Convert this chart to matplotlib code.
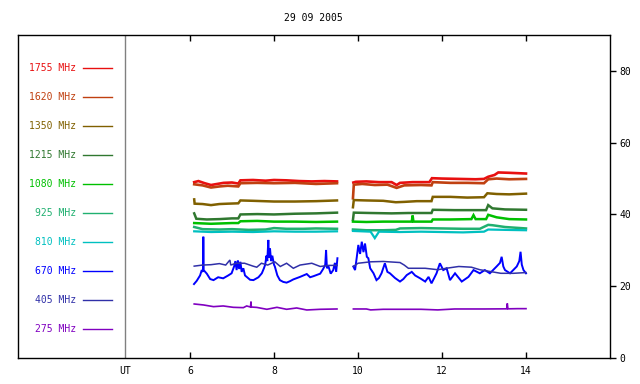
import numpy as np
import matplotlib
matplotlib.use("Agg")
import matplotlib.pyplot as plt
import matplotlib.transforms as mtransforms

nan = float("nan")
title = "29 09 2005"
freq_labels = ["1755 MHz", "1620 MHz", "1350 MHz", "1215 MHz", "1080 MHz",
               "925 MHz", "810 MHz", "670 MHz", "405 MHz", "275 MHz"]
colors = ["#e81010", "#c04010", "#806000", "#307830", "#00c000",
          "#20b070", "#00c0c0", "#0000ff", "#3030a8", "#8000c0"]
x_ticks = [6, 8, 10, 12, 14]
y_ticks = [0, 20, 40, 60, 80]

t_1755 = [6.1, 6.2, 6.35, 6.5, 6.6, 6.8, 7.0, 7.15, 7.2, 7.5, 7.8, 8.0, 8.3, 8.6, 8.9, 9.2, 9.5,
          9.7,
          9.89, 9.95, 10.2, 10.5, 10.8, 10.92, 11.0, 11.3, 11.7, 11.76, 12.0, 12.4, 12.8, 13.0, 13.1, 13.25, 13.34, 13.6, 13.8, 14.0]
v_1755 = [49.0, 49.3, 48.7, 48.2, 48.4, 48.8, 48.9, 48.6, 49.5, 49.6, 49.4, 49.6, 49.5, 49.3, 49.2, 49.3, 49.2,
          nan,
          48.9, 49.1, 49.2, 49.0, 49.0, 48.2, 48.8, 49.0, 49.0, 50.1, 50.0, 49.9, 49.8, 49.9, 50.5, 51.0, 51.7, 51.6, 51.5, 51.4]

t_1620 = [6.1, 6.3, 6.5, 6.7, 6.9, 7.15, 7.2, 7.6, 8.0, 8.5, 9.0, 9.5,
          9.7,
          9.88, 9.9, 10.1, 10.4, 10.7, 10.92, 11.1, 11.5, 11.75, 11.78, 12.2, 12.6, 13.0, 13.1, 13.3, 13.6, 14.0]
v_1620 = [48.4, 48.1, 47.5, 47.8, 48.0, 47.8, 48.7, 48.8, 48.7, 48.8, 48.5, 48.7,
          nan,
          44.5, 48.3, 48.5, 48.2, 48.3, 47.4, 48.1, 48.2, 48.1, 49.0, 48.8, 48.8, 48.7, 49.8, 50.0, 49.8, 49.9]

t_1350 = [6.1, 6.11, 6.3, 6.5, 6.7, 6.9, 7.15, 7.2, 7.5, 8.0, 8.5, 9.0, 9.5,
          9.7,
          9.88, 9.9, 10.2, 10.6, 10.9, 11.1, 11.4, 11.75, 11.78, 12.2, 12.6, 13.0, 13.08, 13.3, 13.6, 14.0]
v_1350 = [44.2, 43.0, 42.9, 42.6, 42.9, 43.0, 43.1, 43.9, 43.8, 43.6, 43.6, 43.7, 43.9,
          nan,
          42.0, 44.0, 43.9, 43.8, 43.4, 43.5, 43.7, 43.7, 44.9, 44.9, 44.7, 44.8, 45.9, 45.7, 45.6, 45.8]

t_1215 = [6.1, 6.15, 6.4, 6.7, 7.0, 7.15, 7.2, 7.6, 8.0, 8.5, 9.0, 9.5,
          9.7,
          9.88, 9.9, 10.3, 10.8, 11.2, 11.75, 11.78, 12.3, 12.8, 13.05, 13.1, 13.2, 13.5, 14.0]
v_1215 = [40.3, 38.8, 38.6, 38.7, 38.9, 38.9, 40.0, 40.1, 40.0, 40.2, 40.3, 40.5,
          nan,
          38.5, 40.5, 40.4, 40.3, 40.4, 40.4, 41.3, 41.2, 41.2, 41.2, 42.6, 41.7, 41.4, 41.3]

t_1080 = [6.1, 6.5, 7.0, 7.15, 7.2, 7.6, 8.0, 8.5, 9.0, 9.5,
          9.7,
          9.88, 10.2, 10.6, 11.0, 11.28, 11.3, 11.32, 11.75, 11.78, 12.2, 12.7, 12.75, 12.8, 13.05, 13.1, 13.3, 13.6, 14.0]
v_1080 = [37.6, 37.4, 37.6, 37.6, 38.1, 38.2, 38.0, 38.0, 37.9, 38.0,
          nan,
          38.0, 37.9, 38.0, 38.0, 38.0, 39.7, 38.0, 38.0, 38.6, 38.6, 38.7, 39.8, 38.7, 38.7, 39.9, 39.2, 38.7, 38.6]

t_925 = [6.1, 6.3, 6.7, 7.0, 7.4, 7.8, 8.0, 8.3, 8.7, 9.0, 9.5,
         9.7,
         9.88, 10.2, 10.6, 10.9, 11.0, 11.5, 12.0, 12.5, 12.9, 13.1, 13.2, 13.5, 14.0]
v_925 = [36.5, 35.9, 35.8, 35.9, 35.7, 35.8, 36.2, 36.0, 36.0, 36.1, 36.0,
         nan,
         35.8, 35.6, 35.6, 35.7, 36.1, 36.2, 36.1, 36.0, 36.0, 37.1, 37.0, 36.5, 36.1]

t_810 = [6.1, 6.5, 7.0, 7.5, 8.0, 8.5, 9.0, 9.5,
         9.7,
         9.88, 10.3, 10.4, 10.5, 11.0, 11.5, 12.0, 12.5, 13.0, 13.1, 13.5, 14.0]
v_810 = [35.3, 35.1, 35.2, 35.1, 35.3, 35.2, 35.2, 35.3,
         nan,
         35.4, 35.2, 33.4, 35.2, 35.1, 35.2, 35.1, 35.0, 35.2, 35.8, 35.7, 35.6]

t_670 = [6.095, 6.16, 6.24, 6.28, 6.31, 6.317, 6.325, 6.4, 6.48, 6.56, 6.67, 6.79, 6.91, 6.99,
         7.05, 7.08, 7.11, 7.14, 7.17, 7.2, 7.23, 7.27, 7.31, 7.43, 7.51, 7.63, 7.71, 7.76, 7.79,
         7.82, 7.84, 7.865, 7.88, 7.905, 7.93, 7.96, 8.0, 8.02, 8.08, 8.14, 8.22, 8.30, 8.38, 8.46,
         8.62, 8.78, 8.86, 8.94, 9.10, 9.17, 9.22, 9.24, 9.26, 9.29, 9.35, 9.41, 9.45, 9.48, 9.51,
         9.7,
         9.889, 9.93, 9.97, 10.008, 10.05, 10.09, 10.13, 10.167, 10.21, 10.246, 10.29, 10.37, 10.44,
         10.5, 10.56, 10.64, 10.7, 10.76, 10.88, 11.0, 11.08, 11.16, 11.28, 11.36, 11.48, 11.6,
         11.68, 11.75, 11.87, 11.95, 12.03, 12.11, 12.19, 12.31, 12.47, 12.63, 12.75, 12.9, 13.02,
         13.14, 13.3, 13.38, 13.42, 13.46, 13.5, 13.62, 13.78, 13.84, 13.87, 13.9, 13.94, 14.0]
v_670 = [20.6, 21.5, 23.0, 24.5, 24.0, 33.8, 24.5, 23.5, 22.0, 21.7, 22.5, 22.2, 23.0, 23.6,
         25.5, 27.0, 24.5, 27.2, 24.8, 26.8, 24.0, 25.0, 23.0, 21.8, 21.7, 22.5, 23.6, 25.0, 26.0,
         28.5, 27.0, 32.9, 28.0, 30.5, 27.0, 28.5, 26.0, 25.5, 23.0, 21.7, 21.2, 21.0, 21.4, 21.9,
         22.6, 23.4, 22.5, 22.8, 23.5, 24.8, 26.0, 30.1, 25.0, 25.8, 23.5, 24.5, 26.5, 24.0, 27.8,
         nan,
         25.5, 24.5, 28.0, 31.5, 29.0, 32.4, 29.5, 31.9, 28.2, 27.8, 25.0, 23.6, 21.7,
         22.3, 23.6, 26.4, 24.0, 23.6, 22.3, 21.3, 22.0, 23.1, 24.0, 23.0, 22.2, 21.3,
         22.6, 20.8, 23.6, 26.4, 24.5, 25.0, 21.7, 23.6, 21.3, 22.6, 24.5, 23.6, 24.5,
         23.6, 25.5, 26.5, 28.2, 25.5, 24.5, 23.6, 25.5, 27.0, 29.6, 26.0, 24.5, 23.6]

t_405 = [6.1, 6.3, 6.5, 6.7, 6.85, 6.95, 6.97, 7.1, 7.3, 7.5, 7.59, 7.7, 7.85, 8.02, 8.15, 8.3, 8.46,
         8.62, 8.9, 9.1, 9.3, 9.5,
         9.7,
         9.89, 10.0, 10.3, 10.6, 11.0, 11.1, 11.2, 11.6, 11.9, 12.1, 12.4, 12.7, 12.9, 13.2, 13.4, 13.7, 14.0]
v_405 = [25.6, 25.9, 26.0, 26.3, 25.9, 27.3, 25.9, 26.4, 26.4, 25.6, 25.3, 26.4, 25.9, 26.8, 25.5, 26.4, 25.0,
         25.9, 26.4, 25.5, 25.8, 25.8,
         nan,
         25.5, 26.4, 26.8, 26.9, 26.6, 25.9, 25.0, 25.0, 24.6, 25.0, 25.5, 25.3, 24.6, 24.0, 23.6, 23.6, 23.8]

t_275 = [6.1, 6.32, 6.56, 6.79, 7.03, 7.27, 7.35, 7.44, 7.452, 7.46, 7.59, 7.83, 8.07, 8.3, 8.54, 8.78, 9.1, 9.5,
         9.7,
         9.89, 10.2, 10.3, 10.6, 11.0, 11.5, 11.9, 12.3, 12.7, 13.0, 13.54, 13.555, 13.57, 13.8, 14.0]
v_275 = [15.05, 14.78, 14.31, 14.5, 14.12, 14.03, 14.5, 14.2, 15.7, 14.2, 14.1, 13.57, 14.12, 13.57, 13.94, 13.38, 13.57, 13.66,
         nan,
         13.66, 13.66, 13.4, 13.57, 13.57, 13.57, 13.4, 13.66, 13.66, 13.66, 13.7, 15.2, 13.7, 13.75, 13.75]

series_t = [t_1755, t_1620, t_1350, t_1215, t_1080, t_925, t_810, t_670, t_405, t_275]
series_v = [v_1755, v_1620, v_1350, v_1215, v_1080, v_925, v_810, v_670, v_405, v_275]

plt.rcParams['font.family'] = ['DejaVu Sans Mono']
fig = plt.figure(figsize=(6.4, 3.84), dpi=100)
W, H = 640, 384
ax = fig.add_axes([18 / W, 26 / H, 592 / W, 323 / H])
x_ut = 4.452
ax.set_xlim(16 - 592 / 42, 16)
ax.set_ylim(0, 90)

line_widths = [1.9, 1.9, 1.8, 1.8, 1.8, 1.8, 1.6, 1.4, 1.1, 1.2]
for i in range(len(series_t)):
    ax.plot(series_t[i], series_v[i], color=colors[i], lw=line_widths[i], solid_joinstyle='miter')

ax.axvline(x_ut, color='#808080', lw=1.0)

# legend panel
for i, (lab, c) in enumerate(zip(freq_labels, colors)):
    ypx = 68 + i * 29.05
    yf = (358 - ypx) / 323
    ax.text((76 - 18) / 592, yf, lab, color=c, fontsize=7, ha='right', va='center',
            transform=ax.transAxes)
    ax.plot([(83 - 18) / 592, (112 - 18) / 592], [yf, yf], color=c, lw=1.0,
            transform=ax.transAxes, clip_on=False)

for s in ax.spines.values():
    s.set_color('black')
    s.set_linewidth(1.0)

ax.set_xticks(x_ticks)
ax.set_xticklabels([str(x) for x in x_ticks], fontsize=7)
ax.tick_params(axis='x', direction='in', length=4, top=True, bottom=True, pad=6, width=1)
ax.yaxis.tick_right()
ax.set_yticks(y_ticks)
ax.set_yticklabels([str(y) for y in y_ticks], fontsize=7)
ax.tick_params(axis='y', direction='out', length=4, left=False, right=True, pad=3, width=1)

trans = mtransforms.blended_transform_factory(ax.transData, ax.transAxes)
ax.text(x_ut, -0.026, 'UT', fontsize=7, ha='center', va='top', transform=trans)

fig.text(313 / W, 1 - 18 / H, title, fontsize=7, ha='center', va='center')

fig.savefig('out.png', dpi=100)
